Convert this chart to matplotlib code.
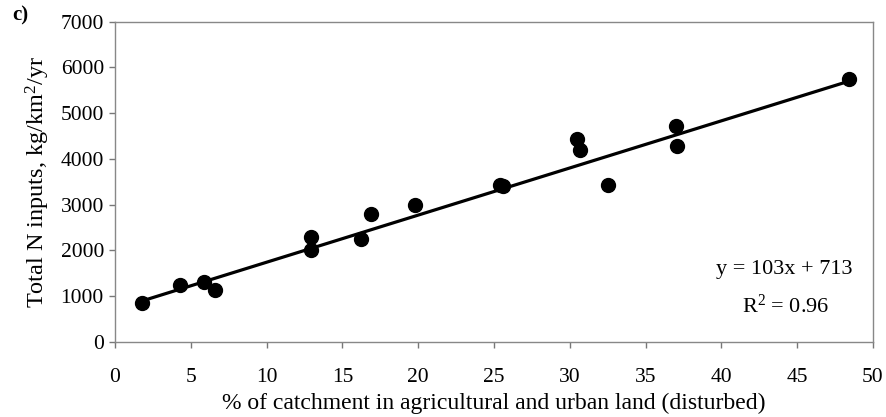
import matplotlib
matplotlib.use("Agg")
import matplotlib.pyplot as plt
import numpy as np

plt.rcParams['font.family'] = ['Liberation Serif', 'DejaVu Serif']
plt.rcParams['mathtext.fontset'] = 'custom'
plt.rcParams['mathtext.rm'] = 'Liberation Serif'
plt.rcParams['mathtext.it'] = 'Liberation Serif:italic'

# Data
disturbed_pct = [1.8, 4.3, 5.9, 6.6, 12.9, 12.9, 16.2, 16.9, 19.8, 25.4, 25.6, 30.5, 30.7, 32.5, 37.0, 37.1, 48.4]
total_n = [850, 1240, 1310, 1130, 2290, 2000, 2240, 2790, 3000, 3420, 3400, 4440, 4200, 3430, 4730, 4280, 5750]
slope = 103
intercept = 713
r2 = 0.96
x_ticks = [0, 5, 10, 15, 20, 25, 30, 35, 40, 45, 50]
y_ticks = [0, 1000, 2000, 3000, 4000, 5000, 6000, 7000]

fig = plt.figure(figsize=(8.86, 4.17), dpi=100)
ax = fig.add_axes([0.1298, 0.1799, 0.8555, 0.7681])

xs = np.array([min(disturbed_pct), max(disturbed_pct)])
ax.plot(xs, slope * xs + intercept, color='black', lw=2.3, zorder=2)
ax.plot(disturbed_pct, total_n, 'o', color='black', ms=10, zorder=3)

ax.set_xlim(0, 50)
ax.set_ylim(0, 7000)
ax.set_xticks(x_ticks)
ax.set_yticks(y_ticks)
ax.tick_params(direction='out', length=4, width=1, color='#777777', labelsize=15.5, pad=4)
ax.tick_params(axis='x', pad=15)
for s in ax.spines.values():
    s.set_color('#888888')
    s.set_linewidth(1)

ax.set_xlabel('% of catchment in agricultural and urban land (disturbed)', fontsize=17, labelpad=4)
ax.set_ylabel('Total N inputs, kg/km$^{2}$/yr', fontsize=17.5, labelpad=6)

ax.text(0.9736, 0.225, f'y = {slope}x + {intercept}', transform=ax.transAxes, ha='right', va='center', fontsize=16)
ax.text(0.942, 0.112, f'R$^{{2}}$ = {r2:.2f}', transform=ax.transAxes, ha='right', va='center', fontsize=16)

fig.text(0.023, 0.962, 'c)', fontsize=15, fontweight='bold', ha='center', va='center')

fig.savefig('out.png', dpi=100)
